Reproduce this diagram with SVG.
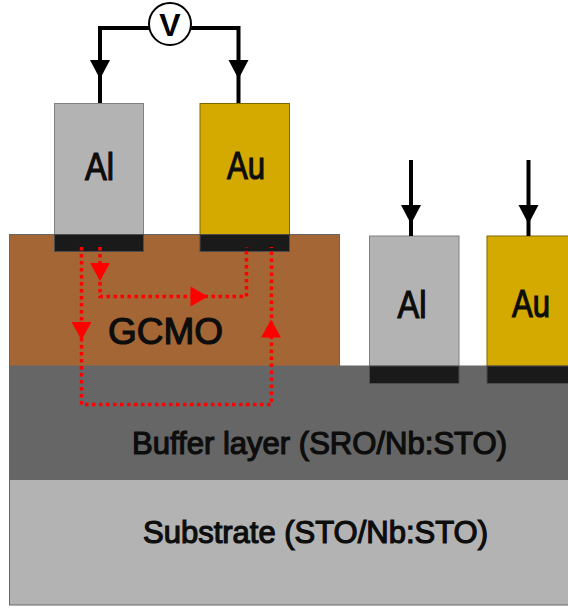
<svg xmlns="http://www.w3.org/2000/svg" width="568" height="610" viewBox="0 0 568 610">
<defs>
<style>
.layer{stroke:#666;stroke-width:1}
.al{fill:#b3b3b3;stroke:#808080;stroke-width:1}
.au{fill:#d4aa00;stroke:#806600;stroke-width:1}
.pad{fill:#1a1a1a;stroke:#4d4d4d;stroke-width:1}
.wire{fill:none;stroke:#000;stroke-width:4}
.red{fill:none;stroke:#f00;stroke-width:3.5;stroke-dasharray:3.5 3.5}
.ah{fill:#000}
.rh{fill:#f00}
text{font-family:"Liberation Sans",Arial,sans-serif;fill:#0d0d0d;stroke:#0d0d0d;stroke-width:1.2}
</style>
</defs>
<g id="substrate"><rect class="layer" x="9.500" y="479.500" width="570" height="125.500" fill="#b3b3b3"/><text x="143" y="543" font-size="31" textLength="345" lengthAdjust="spacingAndGlyphs">Substrate (STO/Nb:STO)</text></g>
<g id="buffer"><rect class="layer" x="9.500" y="366" width="570" height="113" fill="#666"/><text x="132" y="454" font-size="31" textLength="375" lengthAdjust="spacingAndGlyphs">Buffer layer (SRO/Nb:STO)</text></g>
<g id="gcmo"><rect x="9.500" y="234.500" width="330" height="131.500" fill="#a56635" stroke="#666"/><text x="108" y="343.500" font-size="36" textLength="115" lengthAdjust="spacingAndGlyphs">GCMO</text></g>
<g id="al-left"><rect class="al" x="54.500" y="103.500" width="89" height="131"/><rect class="pad" x="54.500" y="234.500" width="89" height="17"/><text x="85" y="180" font-size="38" textLength="29" lengthAdjust="spacingAndGlyphs">Al</text></g>
<g id="au-left"><rect class="au" x="200" y="103.500" width="89.500" height="131"/><rect class="pad" x="200" y="234.500" width="89.500" height="17"/><text x="227" y="179" font-size="38" textLength="38" lengthAdjust="spacingAndGlyphs">Au</text></g>
<g id="al-right"><rect class="al" x="369.500" y="236" width="89.500" height="130"/><rect class="pad" x="369.500" y="366" width="89.500" height="17.500"/><text x="397.500" y="318" font-size="38" textLength="29" lengthAdjust="spacingAndGlyphs">Al</text></g>
<g id="au-right"><rect class="au" x="487" y="236" width="90" height="130"/><rect class="pad" x="487" y="366" width="90" height="17.500"/><text x="512" y="317" font-size="38" textLength="38" lengthAdjust="spacingAndGlyphs">Au</text></g>
<g id="voltmeter"><circle cx="170" cy="24" r="21" fill="#fff" stroke="#000" stroke-width="2"/><text x="170" y="36" font-size="32" font-weight="bold" text-anchor="middle" style="fill:#000;stroke:none">V</text></g>
<g id="connectors">
<path class="wire" d="M149 28H100V103"/>
<path class="wire" d="M191 28H238.500V103"/>
<path class="wire" d="M411 160V236"/>
<path class="wire" d="M528.500 160V236"/>
<polygon class="ah" points="90,60 110,60 100,79"/>
<polygon class="ah" points="228.500,60 248.500,60 238.500,79"/>
<polygon class="ah" points="401,205 421,205 411,224"/>
<polygon class="ah" points="518.500,205 538.500,205 528.500,224"/>
<path class="red" d="M100 247V296.500H246.500V247"/>
<path class="red" d="M81.500 247V404.500H271.500V247"/>
<polygon class="rh" points="90,263 110,263 100,281"/>
<polygon class="rh" points="190.500,286.500 190.500,306.500 208,296.500"/>
<polygon class="rh" points="71.500,322 91.500,322 81.500,340"/>
<polygon class="rh" points="261,337.500 281,337.500 271,319.500"/>
</g>
</svg>
